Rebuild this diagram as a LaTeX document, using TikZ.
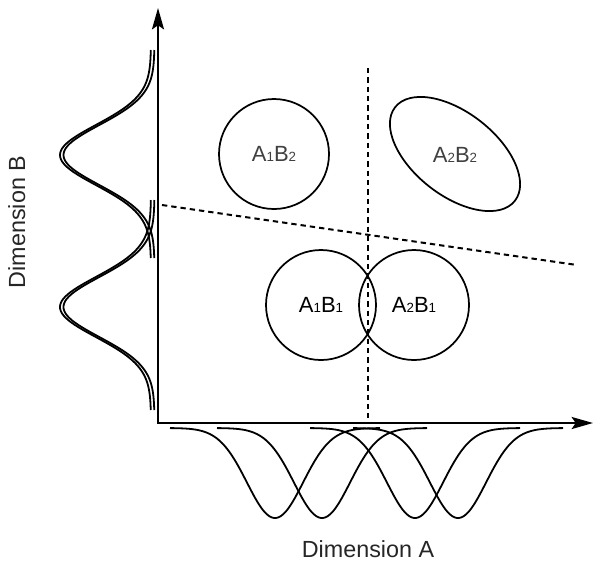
\documentclass[tikz,border=0pt]{standalone}
\usepackage{fontspec}
\setmainfont{Liberation Sans}
\usetikzlibrary{arrows.meta}
\newcommand\sbx[1]{\raisebox{-0.3pt}{\fontsize{10pt}{10pt}\selectfont #1}}
\tikzset{
  axisline/.style={line width=1.6pt, {Stealth[length=16pt,width=9pt,inset=3pt]}-{Stealth[length=16pt,width=9pt,inset=3pt]}},
  dashline/.style={line width=1.5pt, dash pattern=on 4pt off 3pt},
  grp/.style={circle, draw, line width=1.3pt, minimum size=82.5pt, inner sep=0pt, font=\fontsize{16.5pt}{18pt}\selectfont},
  lefcurve/.style={line width=1.35pt},
  botcurve/.style={line width=1.35pt},
  dimlabel/.style={font=\fontsize{17.5pt}{20pt}\selectfont, anchor=base, inner sep=0pt},
  lbl/.style={font=\fontsize{16.5pt}{18pt}\selectfont, inner sep=0pt}
}
\begin{document}
\begin{tikzpicture}[x=0.75pt, y=-0.75pt]
\useasboundingbox (0,0) rectangle (602,565);
% axes
\coordinate (O) at (158,423);
\coordinate (ytip) at (158,8);
\coordinate (xtip) at (593,423);
\draw[axisline] (ytip) -- (O) -- (xtip);
% dashed lines
\coordinate (v1) at (368,68);
\coordinate (v2) at (368,418);
\coordinate (h1) at (162,205);
\coordinate (h2) at (577,265);
\draw[dashline] (v1) -- (v2);
\draw[dashline] (h1) -- (h2);
% groups
\node[grp, text=black!75] (a1b2) at (274,154) {A\sbx{1}B\sbx{2}};
\node[grp] (a1b1) at (321,305) {A\sbx{1}B\sbx{1}};
\node[grp] (a2b1) at (414,305) {A\sbx{2}B\sbx{1}};
\draw[line width=1.3pt, rotate around={-38:(455,154)}] (455,154) ellipse [x radius=57pt, y radius=31.1pt];
\node[lbl, text=black!75] (a2b2) at (455,155) {A\sbx{2}B\sbx{2}};
% left distributions (double-stroked)
\foreach \c/\a/\b in {155/50/258, 307/200/410}{
  \draw[lefcurve] plot[domain=\a:\b, samples=90, variable=\t] ({151-91*exp(-((\t-\c)^2)/1800)}, {\t});
  \draw[lefcurve] plot[domain=\a:\b, samples=90, variable=\t] ({154.5-91*exp(-((\t-\c)^2)/1800)}, {\t});
}
% bottom distributions
\foreach \c in {275,322,415,458}{
  \draw[botcurve] plot[domain=\c-105:\c+105, samples=90, variable=\t] ({\t}, {428+90*exp(-((\t-\c)^2)/1568)});
}
% axis labels
\node[dimlabel, text=black!85] (dimA) at (368,557) {Dimension A};
\node[dimlabel, text=black!85, rotate=90] (dimB) at (25,222) {Dimension B};
\end{tikzpicture}
\end{document}
